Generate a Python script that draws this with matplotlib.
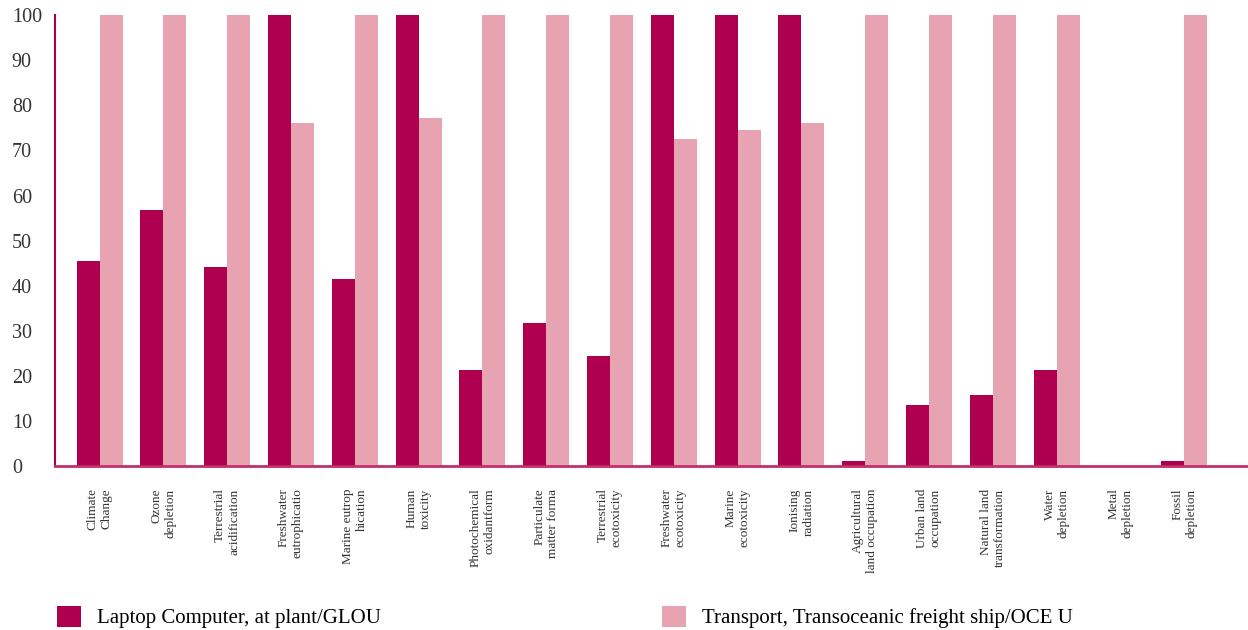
import matplotlib.pyplot as plt
import numpy as np

plt.rcParams['font.family'] = ['Liberation Serif', 'DejaVu Serif']

categories = ['Climate\nChange', 'Ozone\ndepletion', 'Terrestrial\nacidification',
              'Freshwater\neutrophicatio', 'Marine eutrop\nhication', 'Human\ntoxicity',
              'Photochemical\noxidantform', 'Particulate\nmatter forma', 'Terrestrial\necotoxicity',
              'Freshwater\necotoxicity', 'Marine\necotoxicity', 'Ionising\nradiation',
              'Agricultural\nland occupation', 'Urban land\noccupation', 'Natural land\ntransformation',
              'Water\ndepletion', 'Metal\ndepletion', 'Fossil\ndepletion']
laptop = [45.5, 56.8, 44.1, 100, 41.5, 100, 21.3, 31.7, 24.4,
          100, 100, 100, 1.1, 13.5, 15.7, 21.3, 0, 1.1]
transport = [100, 100, 100, 76.1, 100, 77.2, 100, 100, 100,
             72.5, 74.5, 76.1, 100, 100, 100, 100, 0, 100]
yticks = [0, 10, 20, 30, 40, 50, 60, 70, 80, 90, 100]

c_laptop = '#ae004e'
c_transport = '#e8a3b3'

fig = plt.figure(figsize=(12.48, 6.3), dpi=100)
ax = fig.add_axes([0.044, 0.26, 0.956, 0.716])

x = np.arange(len(categories))
w = 0.36
b1 = ax.bar(x - w / 2, laptop, w, color=c_laptop, label='Laptop Computer, at plant/GLOU')
b2 = ax.bar(x + w / 2, transport, w, color=c_transport, label='Transport, Transoceanic freight ship/OCE U')

ax.set_xlim(-0.7, 18)
ax.set_ylim(0, 100)
ax.set_yticks(yticks)
ax.set_xticks(x)
ax.set_xticklabels(categories, rotation=90, fontsize=9.5, va='top', ha='center',
                   multialignment='right', color='#333333')
ax.tick_params(axis='x', length=0, pad=16)
ax.tick_params(axis='y', length=0, pad=31, labelsize=14.5, labelcolor='#333333')
for lab in ax.get_yticklabels():
    lab.set_horizontalalignment('left')

for s in ['top', 'right']:
    ax.spines[s].set_visible(False)
ax.spines['left'].set_color(c_laptop)
ax.spines['left'].set_linewidth(1.5)
ax.spines['bottom'].set_color('#c2306a')
ax.spines['bottom'].set_linewidth(2)

fig.legend(handles=[b1, b2], loc='lower left', bbox_to_anchor=(0.031, -0.027), ncol=2,
           frameon=False, fontsize=15, handlelength=1.15, handleheight=1.15,
           columnspacing=13.5, handletextpad=0.75)

plt.savefig('out.png')
